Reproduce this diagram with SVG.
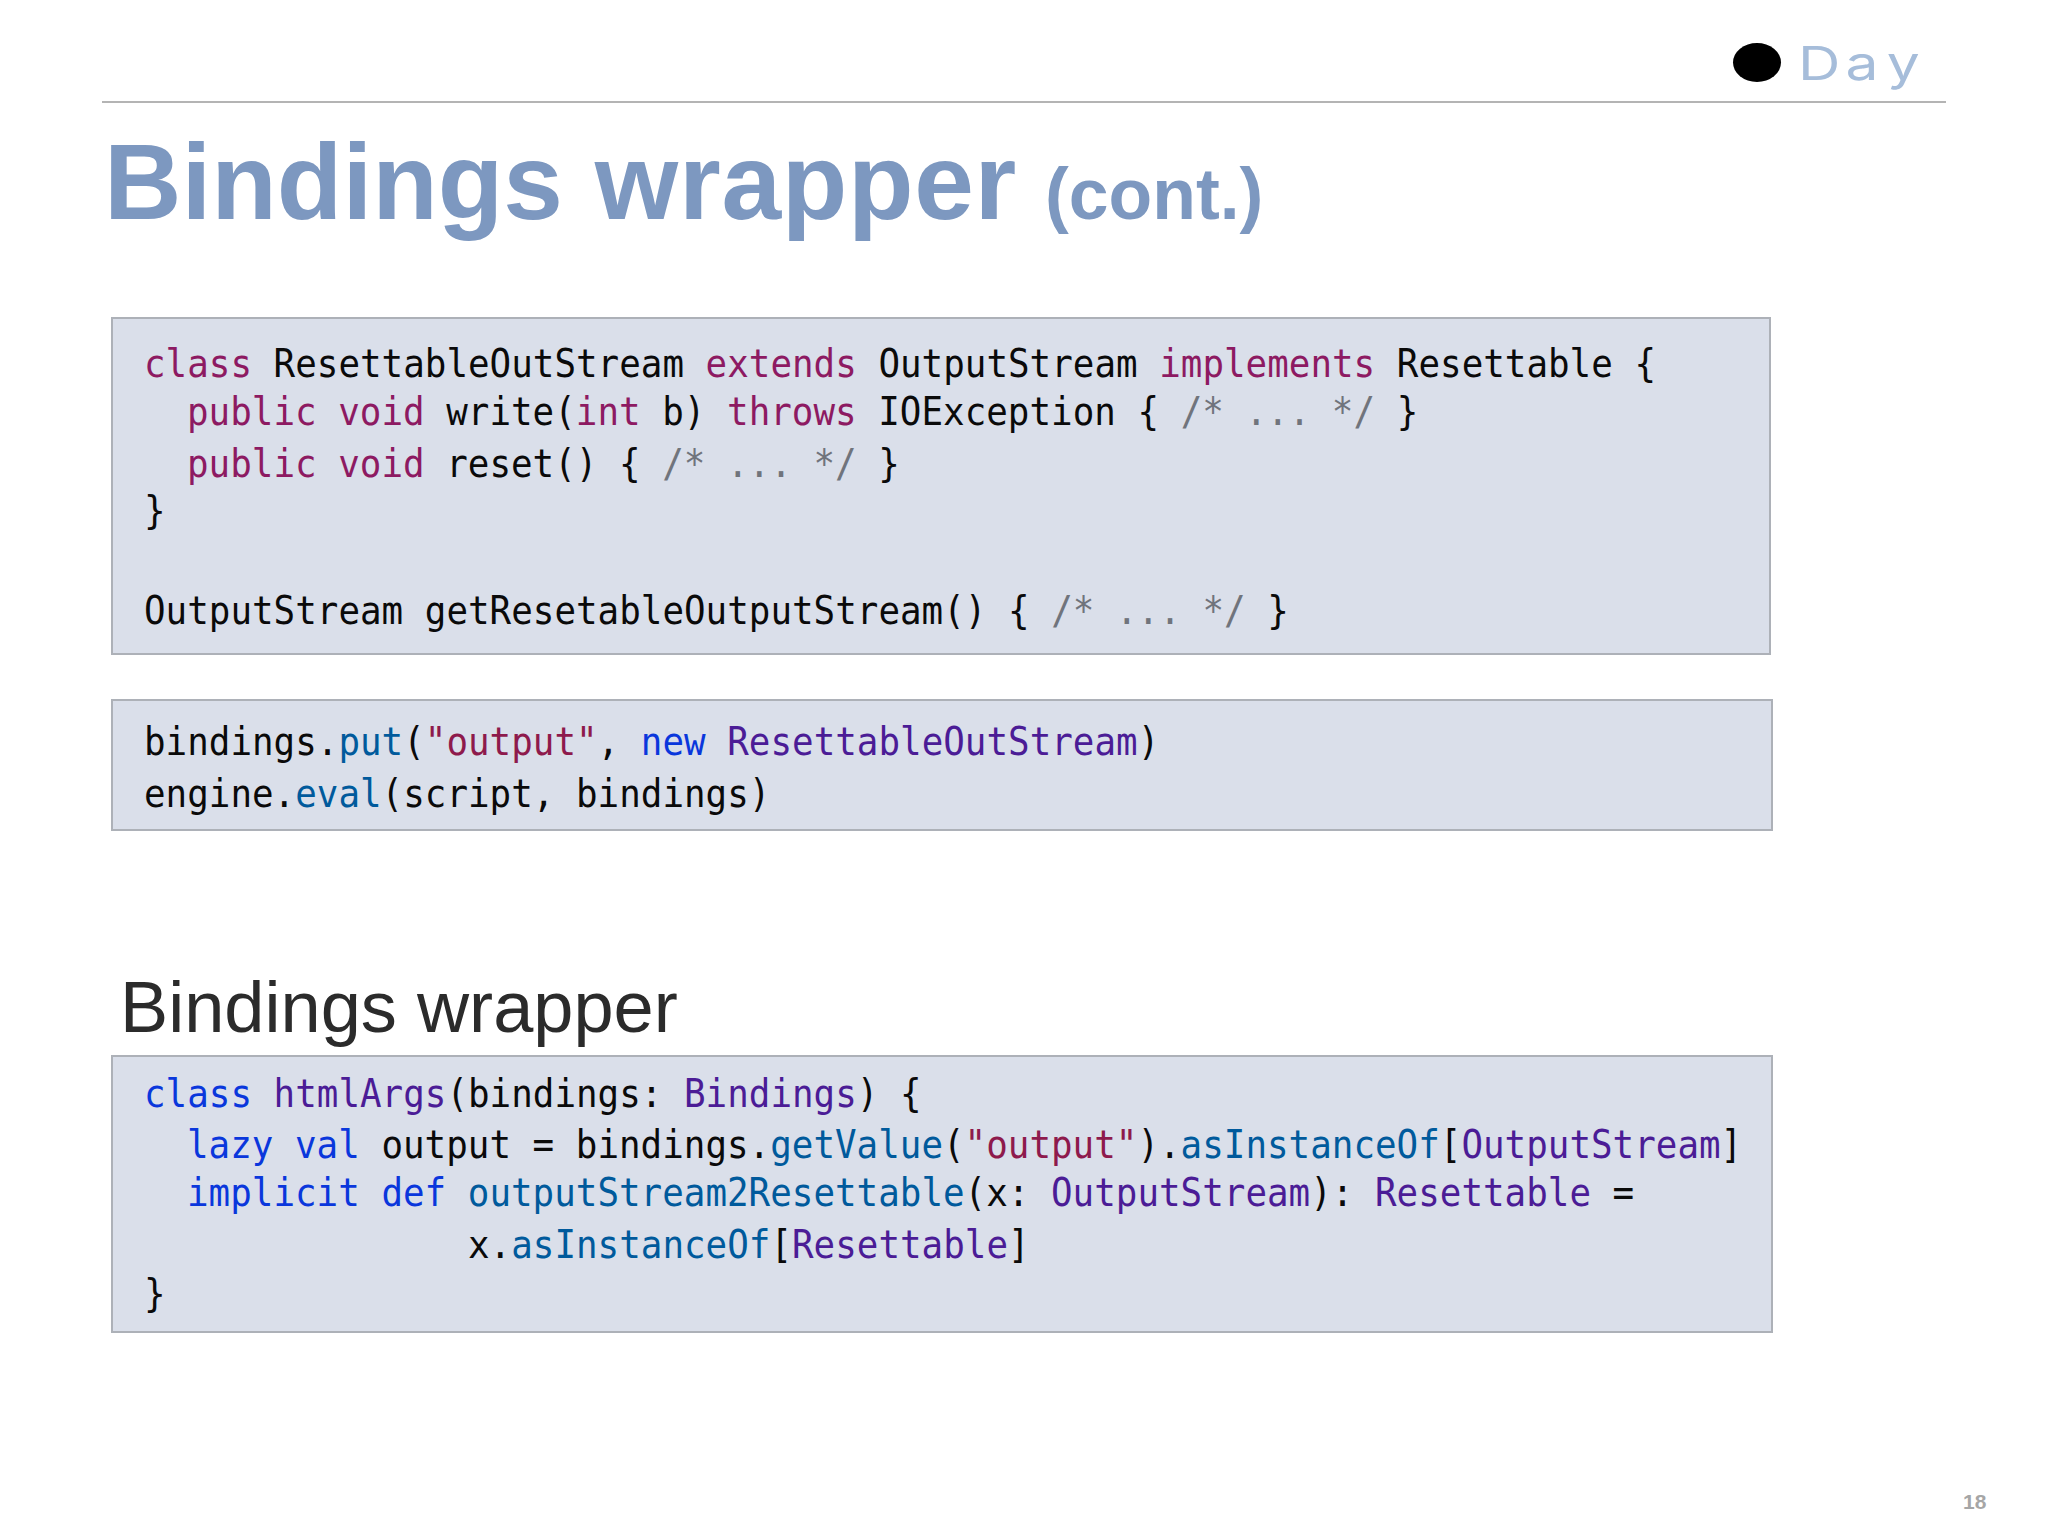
<svg xmlns="http://www.w3.org/2000/svg" width="2048" height="1536" viewBox="0 0 2048 1536">
<style>
.box{fill:#dadfea;stroke:#adb1b8;stroke-width:2}
.code{font-family:"DejaVu Sans Mono",monospace;font-size:39px;fill:#0a0a0a;white-space:pre;transform:scaleX(.92);transform-box:fill-box;transform-origin:0 0}
.k{fill:#8d1a62}.c{fill:#70747c}.b{fill:#0a37dc}.m{fill:#005a9c}.t{fill:#4b1c96}.s{fill:#8e1a4c}
.title{font-family:"Liberation Sans",Arial,sans-serif;font-weight:700;fill:#7d98c0}
</style>
<rect width="2048" height="1536" fill="#ffffff"/>
<g id="header">
<line x1="102" y1="102" x2="1946" y2="102" stroke="#b4b4b4" stroke-width="2"/>
<ellipse cx="1757" cy="62.5" rx="24" ry="19.5" fill="#000000"/>
<text transform="translate(1798 80) scale(1.25 1)" x="0 38 71" y="0" font-family="Inter,'Liberation Sans',sans-serif" font-size="47" font-weight="400" fill="#a6bdda">Day</text>
</g>
<g id="title">
<text class="title" x="104" y="219" font-size="107.3" word-spacing="2">Bindings <tspan letter-spacing=".7">wrapper</tspan></text>
<text class="title" x="1045" y="219" font-size="71.5">(cont.)</text>
</g>
<g id="box1">
<rect class="box" x="112" y="318" width="1658" height="336"/>
<text class="code" x="144" y="377"><tspan class="k">class</tspan> ResettableOutStream <tspan class="k">extends</tspan> OutputStream <tspan class="k">implements</tspan> Resettable {</text>
<text class="code" x="187" y="425"><tspan class="k">public</tspan> <tspan class="k">void</tspan> write(<tspan class="k">int</tspan> b) <tspan class="k">throws</tspan> IOException { <tspan class="c">/* ... */</tspan> }</text>
<text class="code" x="187" y="477"><tspan class="k">public</tspan> <tspan class="k">void</tspan> reset() { <tspan class="c">/* ... */</tspan> }</text>
<text class="code" x="144" y="524">}</text>
<text class="code" x="144" y="624">OutputStream getResetableOutputStream() { <tspan class="c">/* ... */</tspan> }</text>
</g>
<g id="box2">
<rect class="box" x="112" y="700" width="1660" height="130"/>
<text class="code" x="144" y="755">bindings.<tspan class="m">put</tspan>(<tspan class="s">"output"</tspan>, <tspan class="b">new</tspan> <tspan class="t">ResettableOutStream</tspan>)</text>
<text class="code" x="144" y="807">engine.<tspan class="m">eval</tspan>(script, bindings)</text>
</g>
<g id="subtitle">
<text x="120" y="1032" font-family="'Liberation Sans',Arial,sans-serif" font-size="72.2" fill="#2b2b2b">Bindings wrapper</text>
</g>
<g id="box3">
<rect class="box" x="112" y="1056" width="1660" height="276"/>
<text class="code" x="144" y="1107"><tspan class="b">class</tspan> <tspan class="t">htmlArgs</tspan>(bindings: <tspan class="t">Bindings</tspan>) {</text>
<text class="code" x="187" y="1158"><tspan class="b">lazy</tspan> <tspan class="b">val</tspan> output = bindings.<tspan class="m">getValue</tspan>(<tspan class="s">"output"</tspan>).<tspan class="m">asInstanceOf</tspan>[<tspan class="t">OutputStream</tspan>]</text>
<text class="code" x="187" y="1206"><tspan class="b">implicit</tspan> <tspan class="b">def</tspan> <tspan class="m">outputStream2Resettable</tspan>(x: <tspan class="t">OutputStream</tspan>): <tspan class="t">Resettable</tspan> =</text>
<text class="code" x="468" y="1258">x.<tspan class="m">asInstanceOf</tspan>[<tspan class="t">Resettable</tspan>]</text>
<text class="code" x="144" y="1307">}</text>
</g>
<g id="page">
<text x="1963" y="1509" font-family="'Liberation Sans',Arial,sans-serif" font-weight="700" font-size="21" fill="#a6a6a6">18</text>
</g>
</svg>
